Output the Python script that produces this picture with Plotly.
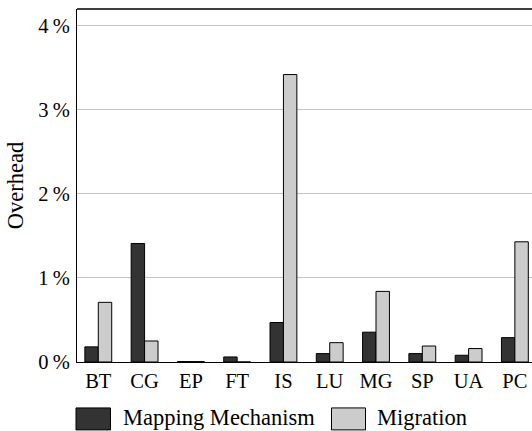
import plotly.graph_objects as go

categories = ["BT", "CG", "EP", "FT", "IS", "LU", "MG", "SP", "UA", "PC"]
mapping_mechanism = [0.18, 1.41, 0.005, 0.06, 0.47, 0.10, 0.355, 0.10, 0.08, 0.29]
migration = [0.71, 0.25, 0.005, 0.0, 3.42, 0.23, 0.84, 0.19, 0.16, 1.43]
y_ticks = [0, 1, 2, 3, 4]
y_tick_labels = ["0\u2009%", "1\u2009%", "2\u2009%", "3\u2009%", "4\u2009%"]

FONT = "Liberation Serif"
FS = 20.5
FS_WORD = 22.5
W, H = 532, 431
ML, MR, MT = 77, 0, 9
PLOT_BOTTOM = 362.5
MB = H - PLOT_BOTTOM
PW, PH = W - ML - MR, H - MT - MB


def px(x):
    return (x - ML) / PW


def py(y):
    return (PLOT_BOTTOM - y) / PH


fig = go.Figure()
fig.add_trace(go.Bar(x=categories, y=mapping_mechanism, name="Mapping Mechanism",
                     marker=dict(color="#333333", line=dict(color="black", width=1))))
fig.add_trace(go.Bar(x=categories, y=migration, name="Migration",
                     marker=dict(color="#cccccc", line=dict(color="black", width=1))))

shapes = [
    dict(type="line", xref="paper", yref="paper", x0=0, x1=1, y0=1, y1=1,
         line=dict(color="black", width=1.3)),
    dict(type="rect", xref="paper", yref="paper", x0=px(76), x1=px(110.5), y0=py(408.5), y1=py(430.5),
         fillcolor="#333333", line=dict(color="black", width=1)),
    dict(type="rect", xref="paper", yref="paper", x0=px(331.5), x1=px(365.5), y0=py(408.5), y1=py(430.5),
         fillcolor="#cccccc", line=dict(color="black", width=1)),
]
annotations = [
    dict(text="Mapping Mechanism", xref="paper", yref="paper", x=px(121), y=py(418),
         xanchor="left", yanchor="middle", showarrow=False,
         font=dict(family=FONT, size=FS_WORD, color="black")),
    dict(text="Migration", xref="paper", yref="paper", x=px(375), y=py(418),
         xanchor="left", yanchor="middle", showarrow=False,
         font=dict(family=FONT, size=FS_WORD, color="black")),
]

fig.update_layout(
    width=W, height=H,
    margin=dict(l=ML, r=MR, t=MT, b=MB, pad=0),
    paper_bgcolor="white", plot_bgcolor="white",
    barmode="group", bargap=0.42, bargroupgap=0,
    showlegend=False,
    font=dict(family=FONT, size=FS, color="black"),
    shapes=shapes, annotations=annotations,
    xaxis=dict(range=[-0.46, 9.37], showline=True, linecolor="black", linewidth=1.3,
               showgrid=False, ticks="", tickfont=dict(family=FONT, size=FS), zeroline=False),
    yaxis=dict(range=[0, 4.2], tickvals=y_ticks, ticktext=y_tick_labels,
               showline=True, linecolor="black", linewidth=1.3,
               showgrid=True, gridcolor="#c4c4c4", gridwidth=1, zeroline=False,
               ticks="", ticklabelstandoff=2, tickfont=dict(family=FONT, size=FS),
               title=dict(text="Overhead", font=dict(family=FONT, size=FS_WORD), standoff=8)),
)

fig.write_html("out.html",
               config={"displayModeBar": False},
               post_script="document.body.style.margin='0';document.body.style.overflow='hidden';")
